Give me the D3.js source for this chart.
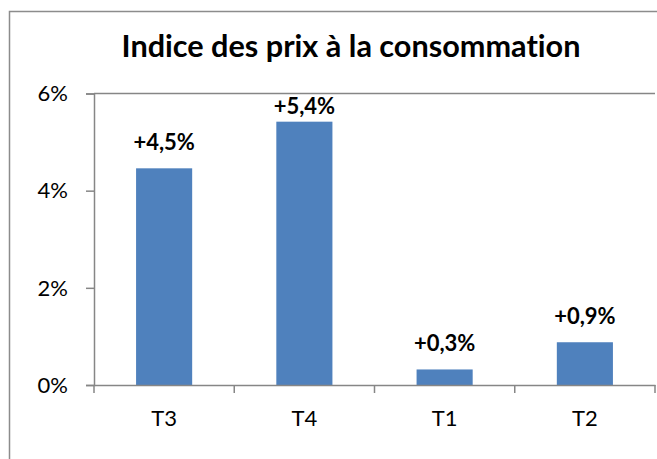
<!DOCTYPE html>
<html>
<head>
<meta charset="utf-8">
<script src="https://cdn.jsdelivr.net/npm/d3@7"></script>
<style>
  body { margin: 0; background: #fff; }
  text { font-family: Lato, "Open Sans", sans-serif; fill: #000; font-variant-ligatures: none; }
</style>
</head>
<body>
<div id="chart"></div>
<script>
// data
var categories = ["T3", "T4", "T1", "T2"];
var values = [4.46, 5.42, 0.32, 0.88];
var valueLabels = ["+4,5%", "+5,4%", "+0,3%", "+0,9%"];
var yTicks = [0, 2, 4, 6];
var title = "Indice des prix à la consommation";

var W = 657, H = 459;
var margin = { top: 93.5, left: 94, right: 2, bottom: 74 };
var width = W - margin.left - margin.right;
var height = H - margin.top - margin.bottom;

var svg = d3.select("#chart")
    .append("svg")
    .attr("width", W)
    .attr("height", H);

// outer frame (only left & top visible)
svg.append("rect")
    .attr("x", 9.5)
    .attr("y", 11.5)
    .attr("width", W + 20)
    .attr("height", H + 20)
    .attr("fill", "none")
    .attr("stroke", "#8c8c8c")
    .attr("stroke-width", 1.5);

// title, sized to the width it has in the original
var titleText = svg.append("text")
    .attr("x", 351)
    .attr("y", 57)
    .attr("text-anchor", "middle")
    .attr("font-weight", "bold")
    .attr("font-size", 25)
    .text(title);
var tl = titleText.node().getComputedTextLength();
titleText.attr("font-size", 25 * 459 / tl);

var g = svg.append("g")
    .attr("transform", "translate(" + margin.left + "," + margin.top + ")");

//scales
var xScale = d3.scaleBand()
    .domain(categories)
    .range([0, width])
    .paddingInner(0.6)
    .paddingOuter(0.3);

var yScale = d3.scaleLinear()
    .domain([0, 6])
    .range([height, 0]);

// top line at 6%
g.append("line")
    .attr("x1", 0)
    .attr("x2", width)
    .attr("y1", yScale(6))
    .attr("y2", yScale(6))
    .attr("stroke", "#868686")
    .attr("stroke-width", 1.5);

//bars
g.selectAll(".bar")
    .data(values)
    .enter()
    .append("rect")
    .attr("class", "bar")
    .attr("x", function (d, i) { return xScale(categories[i]); })
    .attr("width", xScale.bandwidth())
    .attr("y", function (d) { return yScale(d); })
    .attr("height", function (d) { return height - yScale(d); })
    .attr("fill", "#4f81bd");

//y axis
var y_axis = d3.axisLeft(yScale)
    .tickValues(yTicks)
    .tickSize(8)
    .tickPadding(18)
    .tickFormat(function (d) { return d + "%"; });
var yAx = g.append("g").call(y_axis);
yAx.select(".domain").attr("stroke", "#868686").attr("stroke-width", 1.5);
yAx.selectAll(".tick line").attr("stroke", "#868686").attr("stroke-width", 1.5);
yAx.selectAll("text")
    .attr("font-family", "Lato, 'Open Sans', sans-serif")
    .attr("font-size", 22)
    .attr("dy", "0.33em");

//x axis
var x_axis = d3.axisBottom(xScale)
    .tickSize(0)
    .tickPadding(25);
var xAx = g.append("g")
    .attr("transform", "translate(0," + height + ")")
    .call(x_axis);
xAx.select(".domain").attr("stroke", "#868686").attr("stroke-width", 1.5);
xAx.selectAll("text")
    .attr("font-family", "Lato, 'Open Sans', sans-serif")
    .attr("font-size", 22);

// x tick marks on band boundaries
var step = xScale.step();
var bounds = d3.range(categories.length + 1).map(function (i) {
    return i === 0 ? 0 : (i === categories.length ? width : xScale(categories[i - 1]) + xScale.bandwidth() + step * xScale.paddingInner() / 2);
});
xAx.selectAll(".bound")
    .data(bounds)
    .enter()
    .append("line")
    .attr("x1", function (d) { return d; })
    .attr("x2", function (d) { return d; })
    .attr("y1", 0)
    .attr("y2", 8)
    .attr("stroke", "#868686")
    .attr("stroke-width", 1.5);

//value labels
g.selectAll(".lbl")
    .data(values)
    .enter()
    .append("text")
    .attr("class", "lbl")
    .attr("x", function (d, i) { return xScale(categories[i]) + xScale.bandwidth() / 2; })
    .attr("y", function (d) { return Math.max(yScale(d) - 18, yScale(6) + 20); })
    .attr("text-anchor", "middle")
    .attr("font-weight", "bold")
    .attr("font-size", 22)
    .text(function (d, i) { return valueLabels[i]; });
</script>
</body>
</html>
